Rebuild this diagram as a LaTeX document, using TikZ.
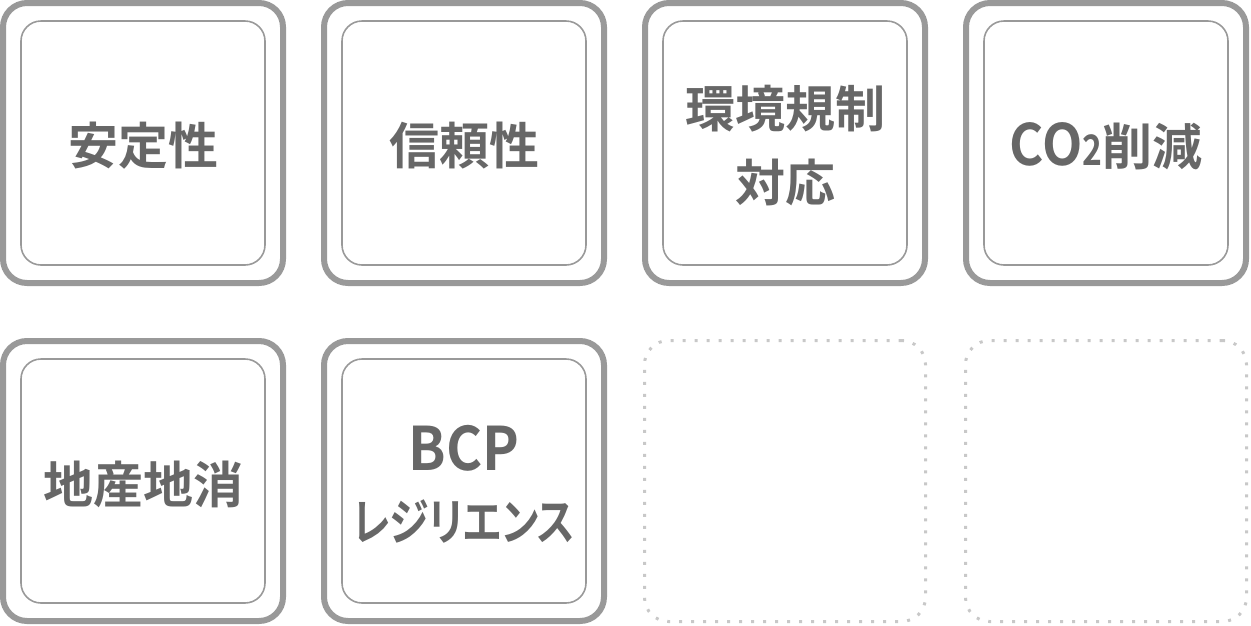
\documentclass[tikz,border=0pt]{standalone}
\usepackage{fontspec}
\newfontfamily\jp{Noto Sans CJK JP Bold}
\newfontfamily\jpp[RawFeature=+palt]{Noto Sans CJK JP Bold}
\definecolor{framegray}{HTML}{999999}
\definecolor{textgray}{HTML}{676767}
\definecolor{dotgray}{HTML}{C8C8C8}
\begin{document}
\begin{tikzpicture}[x=1pt,y=-1pt,
  outerbox/.style={draw=framegray,line width=6pt,rounded corners=24pt,minimum width=280pt,minimum height=280pt,inner sep=0pt},
  innerbox/.style={draw=framegray,line width=1.6pt,rounded corners=20pt,minimum width=244pt,minimum height=244pt,inner sep=0pt},
  label/.style={text=textgray,align=center,inner sep=0pt,font=\jp\fontsize{50}{67}\selectfont},
  emptybox/.style={draw=dotgray,line width=3pt,dash pattern=on 3pt off 9pt,rounded corners=24pt,minimum width=281pt,minimum height=281pt,inner sep=0pt}
]
\useasboundingbox (0,0) rectangle (1251,625);
% row 1
\node[outerbox] (o1) at (143,143) {};
\node[innerbox] (i1) at (o1.center) {};
\node[label] (t1) at ([yshift=-3pt]i1.center) {安定性};
\node[outerbox] (o2) at (464,143) {};
\node[innerbox] (i2) at (o2.center) {};
\node[label] (t2) at ([yshift=-3pt]i2.center) {信頼性};
\node[outerbox] (o3) at (785,143) {};
\node[innerbox] (i3) at (o3.center) {};
\node[label] (t3) at ([yshift=-3pt]i3.center) {環境規制\\[7pt]対応};
\node[outerbox] (o4) at (1106,143) {};
\node[innerbox] (i4) at (o4.center) {};
\node[label] (t4) at ([yshift=-3pt]i4.center) {{\fontsize{57}{60}\selectfont\scalebox{0.92}[1]{CO}}{\fontsize{42}{50}\selectfont\scalebox{0.8}[1]{2}}削減};
% row 2
\node[outerbox] (o5) at (143,481) {};
\node[innerbox] (i5) at (o5.center) {};
\node[label] (t5) at ([yshift=-3pt]i5.center) {地産地消};
\node[outerbox] (o6) at (464,481) {};
\node[innerbox] (i6) at (o6.center) {};
\node[label] (t6) at ([yshift=-3pt]i6.center) {{\fontsize{60}{67}\selectfont\scalebox{0.92}[1]{BCP}}\\[3pt]{\jpp\scalebox{0.8}[1]{レジリエンス}}};
\node[emptybox] (e1) at (785,481) {};
\node[emptybox] (e2) at (1106,481) {};
\end{tikzpicture}
\end{document}
